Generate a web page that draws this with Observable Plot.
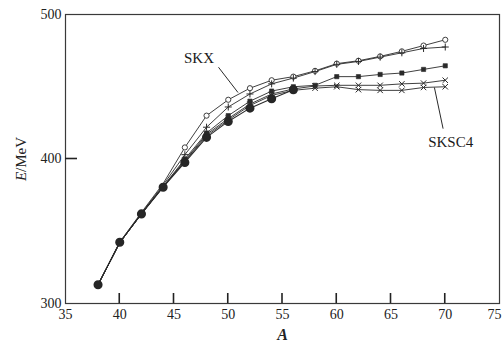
<!DOCTYPE html>
<html>
<head>
<meta charset="utf-8">
<script src="https://cdn.jsdelivr.net/npm/d3@7"></script>
<script src="https://cdn.jsdelivr.net/npm/@observablehq/plot@0.6"></script>
<style>
  html, body { margin: 0; padding: 0; background: #fff; }
  #chart svg { display: block; }
</style>
</head>
<body>
<div id="chart"></div>
<script>
// Mass number A (theory calculations)
const A = [38, 40, 42, 44, 46, 48, 50, 52, 54, 56, 58, 60, 62, 64, 66, 68, 70];
// Experimental mass numbers
const Aexp = [38, 40, 42, 44, 46, 48, 50, 52, 54, 56];

// E/MeV values
const seriesSKX   = [313, 342.5, 363, 383, 408, 430, 441, 449, 454.5, 457, 461, 466, 468, 471, 474.5, 478.5, 482.5];
const seriesPlus  = [313, 342, 362.5, 382, 403, 422, 436, 445, 452, 456, 460.5, 465.5, 467.5, 470.5, 473.5, 476.5, 477.5];
const seriesSq    = [313, 342, 362, 381, 400, 418, 430, 440, 447, 450, 451, 457, 457, 458.5, 459.5, 462, 464.5];
const seriesX1    = [313, 342, 362, 381, 399, 417, 428, 438, 445, 448.5, 450.5, 451, 451, 451, 452, 452.5, 454.5];
const seriesSKSC4 = [313, 342, 362, 380.5, 398.5, 416, 427, 437, 444, 447.5, 449, 450, 448, 447.5, 447.5, 449.5, 450];
const seriesExp   = [313, 342.4, 362, 380.5, 397.6, 415, 426, 435.2, 441.7, 447.9];

// Axis ticks
const xTicks = [35, 40, 45, 50, 55, 60, 65, 70, 75];
const yTicks = [300, 400, 500];

// Annotation labels and leader lines (data coordinates)
const labels = [
  {text: "SKX", a: 47.3, e: 470},
  {text: "SKSC4", a: 70.5, e: 411.5}
];
const leaders = [
  {a1: 49.1, e1: 463.5, a2: 50.9, e2: 446},
  {a1: 69.8, e1: 421, a2: 69.0, e2: 449.5}
];

const series = [
  {name: "SKX", values: seriesSKX, symbol: "circle", r: 2.6},
  {name: "plus", values: seriesPlus, symbol: "plus", r: 2.4},
  {name: "square", values: seriesSq, symbol: "square", r: 2.4},
  {name: "x1", values: seriesX1, symbol: "times", r: 2.6},
  {name: "SKSC4", values: seriesSKSC4, symbol: "times", r: 2.6}
];

const theory = series.flatMap(s => A.map((a, i) => ({series: s.name, a, e: s.values[i]})));
const exp = Aexp.map((a, i) => ({a, e: seriesExp[i]}));

const ink = "#2a2a2a";
const font = "Liberation Serif, Times New Roman, serif";
const xDom = [35, 75], yDom = [300, 500];

const marks = [
  Plot.frame({stroke: "#3a3a3a", strokeWidth: 1.2}),
  Plot.line(theory, {x: "a", y: "e", z: "series", stroke: ink, strokeWidth: 0.9}),
  Plot.line(exp, {x: "a", y: "e", stroke: ink, strokeWidth: 1.1}),
];
for (const s of series) {
  const d = theory.filter(t => t.series === s.name && t.a >= 46);
  if (s.symbol === "circle") {
    marks.push(Plot.dot(d, {x: "a", y: "e", symbol: "circle", r: s.r, fill: "white", stroke: ink, strokeWidth: 0.9}));
  } else if (s.symbol === "square") {
    marks.push(Plot.dot(d, {x: "a", y: "e", symbol: "square", r: s.r, fill: ink, stroke: ink, strokeWidth: 0.6}));
  } else {
    marks.push(Plot.dot(d, {x: "a", y: "e", symbol: s.symbol, r: s.r, stroke: ink, strokeWidth: 1}));
  }
}
marks.push(
  Plot.dot(exp, {x: "a", y: "e", r: 3.8, fill: "#262626", stroke: "#262626"}),
  Plot.link(leaders, {x1: "a1", y1: "e1", x2: "a2", y2: "e2", stroke: ink, strokeWidth: 1}),
  Plot.text(labels, {x: "a", y: "e", text: "text", fontSize: 15, fill: "#1a1a1a", fontFamily: font}),
  Plot.axisX({ticks: xTicks, tickSize: 0, tickPadding: 6, fontSize: 14, label: "A", labelAnchor: "center", labelOffset: 36}),
  Plot.axisY({ticks: yTicks, tickSize: 0, tickPadding: 4, fontSize: 14, label: "E/MeV", labelAnchor: "center", labelOffset: 50})
);

const chart = Plot.plot({
  width: 502,
  height: 345,
  marginLeft: 65,
  marginRight: 3,
  marginTop: 14,
  marginBottom: 42,
  style: {fontFamily: font, fontSize: "14px", color: "#222", background: "white"},
  x: {domain: xDom},
  y: {domain: yDom},
  marks
});

// Inward tick marks placed through Plot's own scales
const sx = chart.scale("x"), sy = chart.scale("y");
const svg = d3.select(chart.tagName.toLowerCase() === "svg" ? chart : chart.querySelector("svg"));
const tg = svg.append("g").attr("aria-label", "inward ticks").attr("stroke", "#222").attr("stroke-width", 1.6);
const y0 = sy.apply(yDom[0]), x0 = sx.apply(xDom[0]);
for (const t of xTicks.slice(1, -1)) {
  const px = sx.apply(t);
  tg.append("line").attr("x1", px).attr("x2", px).attr("y1", y0).attr("y2", y0 - 10);
}
for (const t of yTicks.slice(1, -1)) {
  const py = sy.apply(t);
  tg.append("line").attr("x1", x0).attr("x2", x0 + 12).attr("y1", py).attr("y2", py);
}

// Mixed italic for axis labels
const yl = chart.querySelector('[aria-label="y-axis label"] text');
if (yl) { yl.innerHTML = '<tspan font-style="italic">E</tspan>/MeV'; yl.setAttribute("font-size", "15"); }
const xl = chart.querySelector('[aria-label="x-axis label"] text');
if (xl) { xl.textContent = "A"; xl.setAttribute("font-style", "italic"); xl.setAttribute("font-weight", "bold"); xl.setAttribute("font-size", "16"); }
// keep the last x tick label inside the picture
const xt = chart.querySelectorAll('[aria-label="x-axis tick label"] text');
if (xt.length) { const last = xt[xt.length - 1]; last.setAttribute("text-anchor", "end"); last.setAttribute("dx", "2"); }

document.getElementById("chart").appendChild(chart);
</script>
</body>
</html>
